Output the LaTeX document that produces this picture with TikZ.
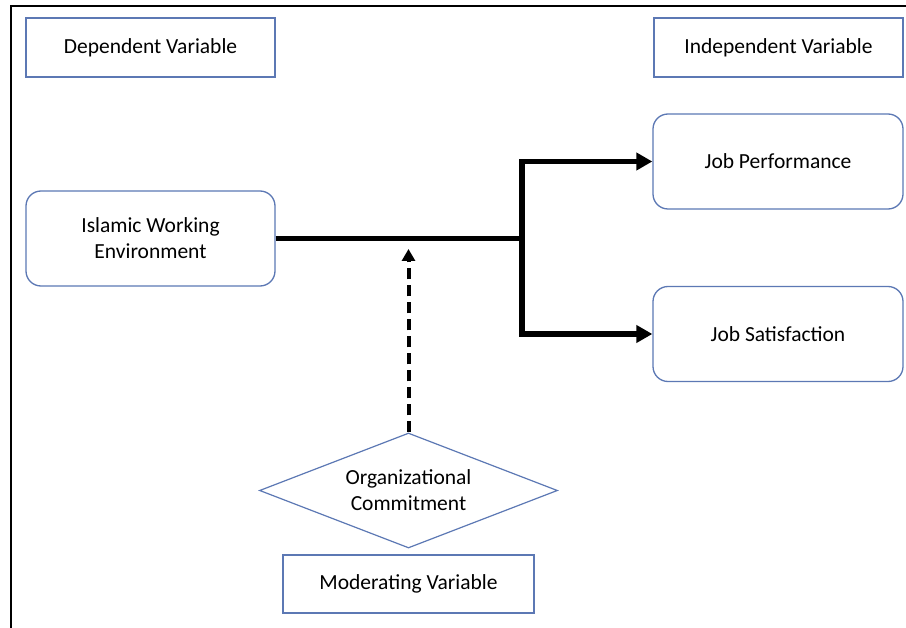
\documentclass[tikz,border=0pt]{standalone}
\usepackage{fontspec}
\setmainfont{Carlito}
\usetikzlibrary{shapes.geometric,arrows.meta}
\definecolor{boxblue}{RGB}{92,120,180}
\begin{document}
\begin{tikzpicture}[x=1pt,y=-1pt,
  every node/.style={font=\fontsize{21.5}{26}\selectfont, align=center, text=black},
  varbox/.style={draw=boxblue, line width=1.3pt, inner sep=0pt, minimum height=59pt},
  roundbox/.style={draw=boxblue, line width=1.3pt, rounded corners=15pt, inner sep=0pt, minimum width=250pt, minimum height=95pt},
  mainline/.style={line width=5.5pt, black},
  mainarrow/.style={line width=5.5pt, black, -{Triangle[length=16pt,width=17pt]}},
  dasharrow/.style={line width=4pt, black, dash pattern=on 11pt off 6pt, -{Triangle[length=12pt,width=13pt]}}
]
\useasboundingbox (0,0) rectangle (906,628);
\fill[white] (0,0) rectangle (906,628);
\draw[line width=2.7pt] (11,628) -- (11,6) -- (906,6);

\node[varbox, minimum width=249pt] (dep) at (150.5,47.5) {Dependent Variable};
\node[varbox, minimum width=249pt] (ind) at (778.5,47.5) {Independent Variable};
\node[roundbox, minimum width=249pt] (iwe) at (150.5,238.5) {Islamic Working\\Environment};
\node[roundbox] (jp) at (778,161.5) {Job Performance};
\node[roundbox] (js) at (778,334) {Job Satisfaction};
\node[draw=boxblue, line width=1.2pt, shape=diamond, aspect=2.6, inner sep=0pt,
      minimum width=298pt, minimum height=115pt] (oc) at (408.5,490.5) {Organizational\\Commitment};
\node[varbox, minimum width=251pt, minimum height=58pt] (mod) at (408.5,584) {Moderating Variable};

\coordinate (j) at (522,238.5);
\coordinate (m) at (oc.north |- 0,249);

\draw[mainline] (iwe.east) -- (j);
\draw[mainarrow] (j) |- (jp.west);
\draw[mainarrow] (j) |- (js.west);
\draw[dasharrow] (oc.north) -- (m);
\end{tikzpicture}
\end{document}
